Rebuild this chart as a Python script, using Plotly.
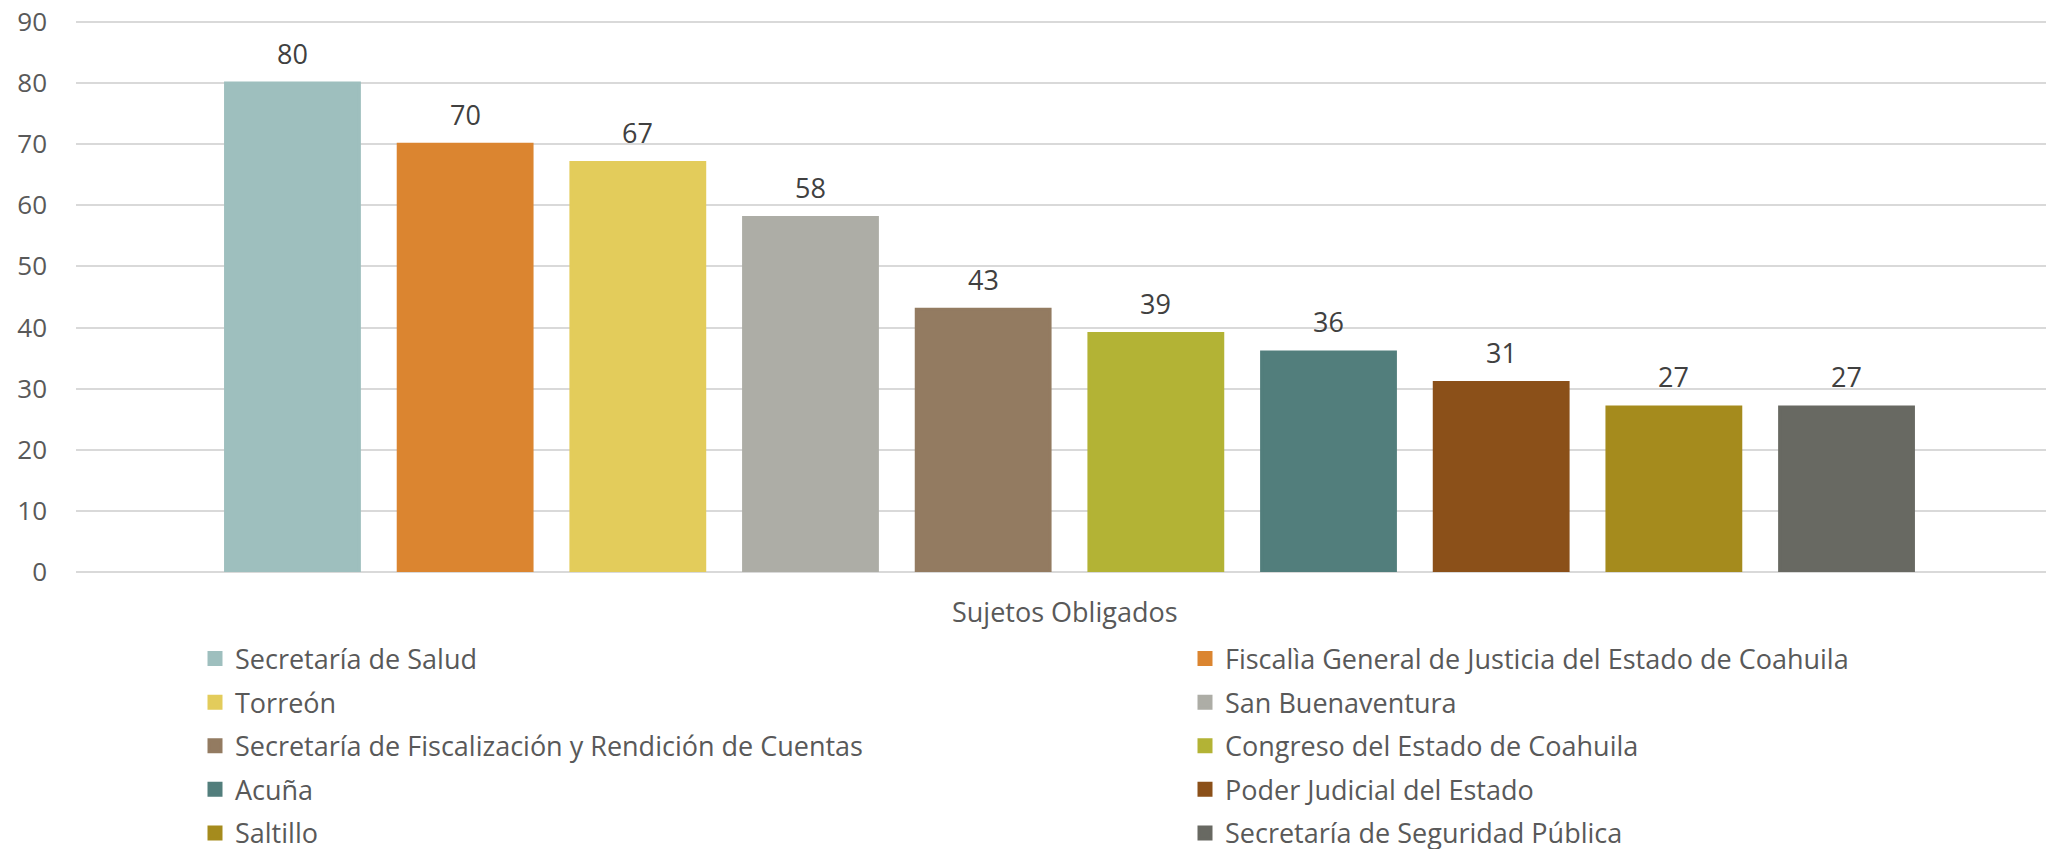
import plotly.graph_objects as go

names = [
    "Secretaría de Salud",
    "Fiscalìa General de Justicia del Estado de Coahuila",
    "Torreón",
    "San Buenaventura",
    "Secretaría de Fiscalización y Rendición de Cuentas",
    "Congreso del Estado de Coahuila",
    "Acuña",
    "Poder Judicial del Estado",
    "Saltillo",
    "Secretaría de Seguridad Pública",
]
values = [80, 70, 67, 58, 43, 39, 36, 31, 27, 27]
colors = ["#9EBFBE", "#DB8530", "#E3CC5B", "#ADADA6", "#937B61",
          "#B3B335", "#527E7C", "#8B5019", "#A58B1D", "#686962"]
axis_title = "Sujetos Obligados"
y_ticks = list(range(0, 100, 10))

FONT = "Open Sans"
W, H = 2046, 841  # page has an 8px body margin
fig = go.Figure()
for i, (n, v, c) in enumerate(zip(names, values, colors)):
    fig.add_trace(go.Bar(
        x=[n], y=[v], name=n, marker=dict(color=c, line=dict(width=3, color=c)),
        width=0.775, legend="legend" if i % 2 == 0 else "legend2",
        legendgroup=n, hoverinfo="y+name",
    ))
    fig.add_annotation(x=n, y=v, text=str(v), showarrow=False, yanchor="middle",
                       yshift=30, font=dict(family=FONT, size=27, color="#404040"))

fig.add_annotation(xref="paper", yref="paper", x=0.5, y=0, text=axis_title,
                   showarrow=False, yanchor="middle", yshift=-39,
                   font=dict(family=FONT, size=27, color="#595959"))

legend_top = 1 - 626.5 / H
legend_common = dict(
    orientation="v", xref="container", yref="container", xanchor="left", yanchor="top",
    font=dict(family=FONT, size=27, color="#595959"), bgcolor="rgba(0,0,0,0)",
    tracegroupgap=5.5, traceorder="grouped", maxheight=400,
)
fig.update_layout(
    width=W, height=H,
    margin=dict(l=68, r=0, t=0, b=277, autoexpand=False),
    paper_bgcolor="white", plot_bgcolor="white",
    barmode="overlay", showlegend=True,
    legend=dict(x=187 / W, y=legend_top, **legend_common),
    legend2=dict(x=1177 / W, y=legend_top, **legend_common),
    xaxis=dict(type="category", categoryorder="array", categoryarray=names,
               range=[-1.2536, 10.2015], showticklabels=False, showgrid=False,
               zeroline=False, showline=False, ticks=""),
    yaxis=dict(range=[0, 92.27], tickvals=y_ticks, showgrid=True, gridcolor="#D9D9D9",
               gridwidth=2, zeroline=True, zerolinecolor="#D9D9D9", zerolinewidth=2,
               showline=False, ticks="", ticklabelstandoff=28, ticklabeloverflow="allow",
               tickfont=dict(family=FONT, size=26, color="#595959")),
)
fig.write_html("out.html")
